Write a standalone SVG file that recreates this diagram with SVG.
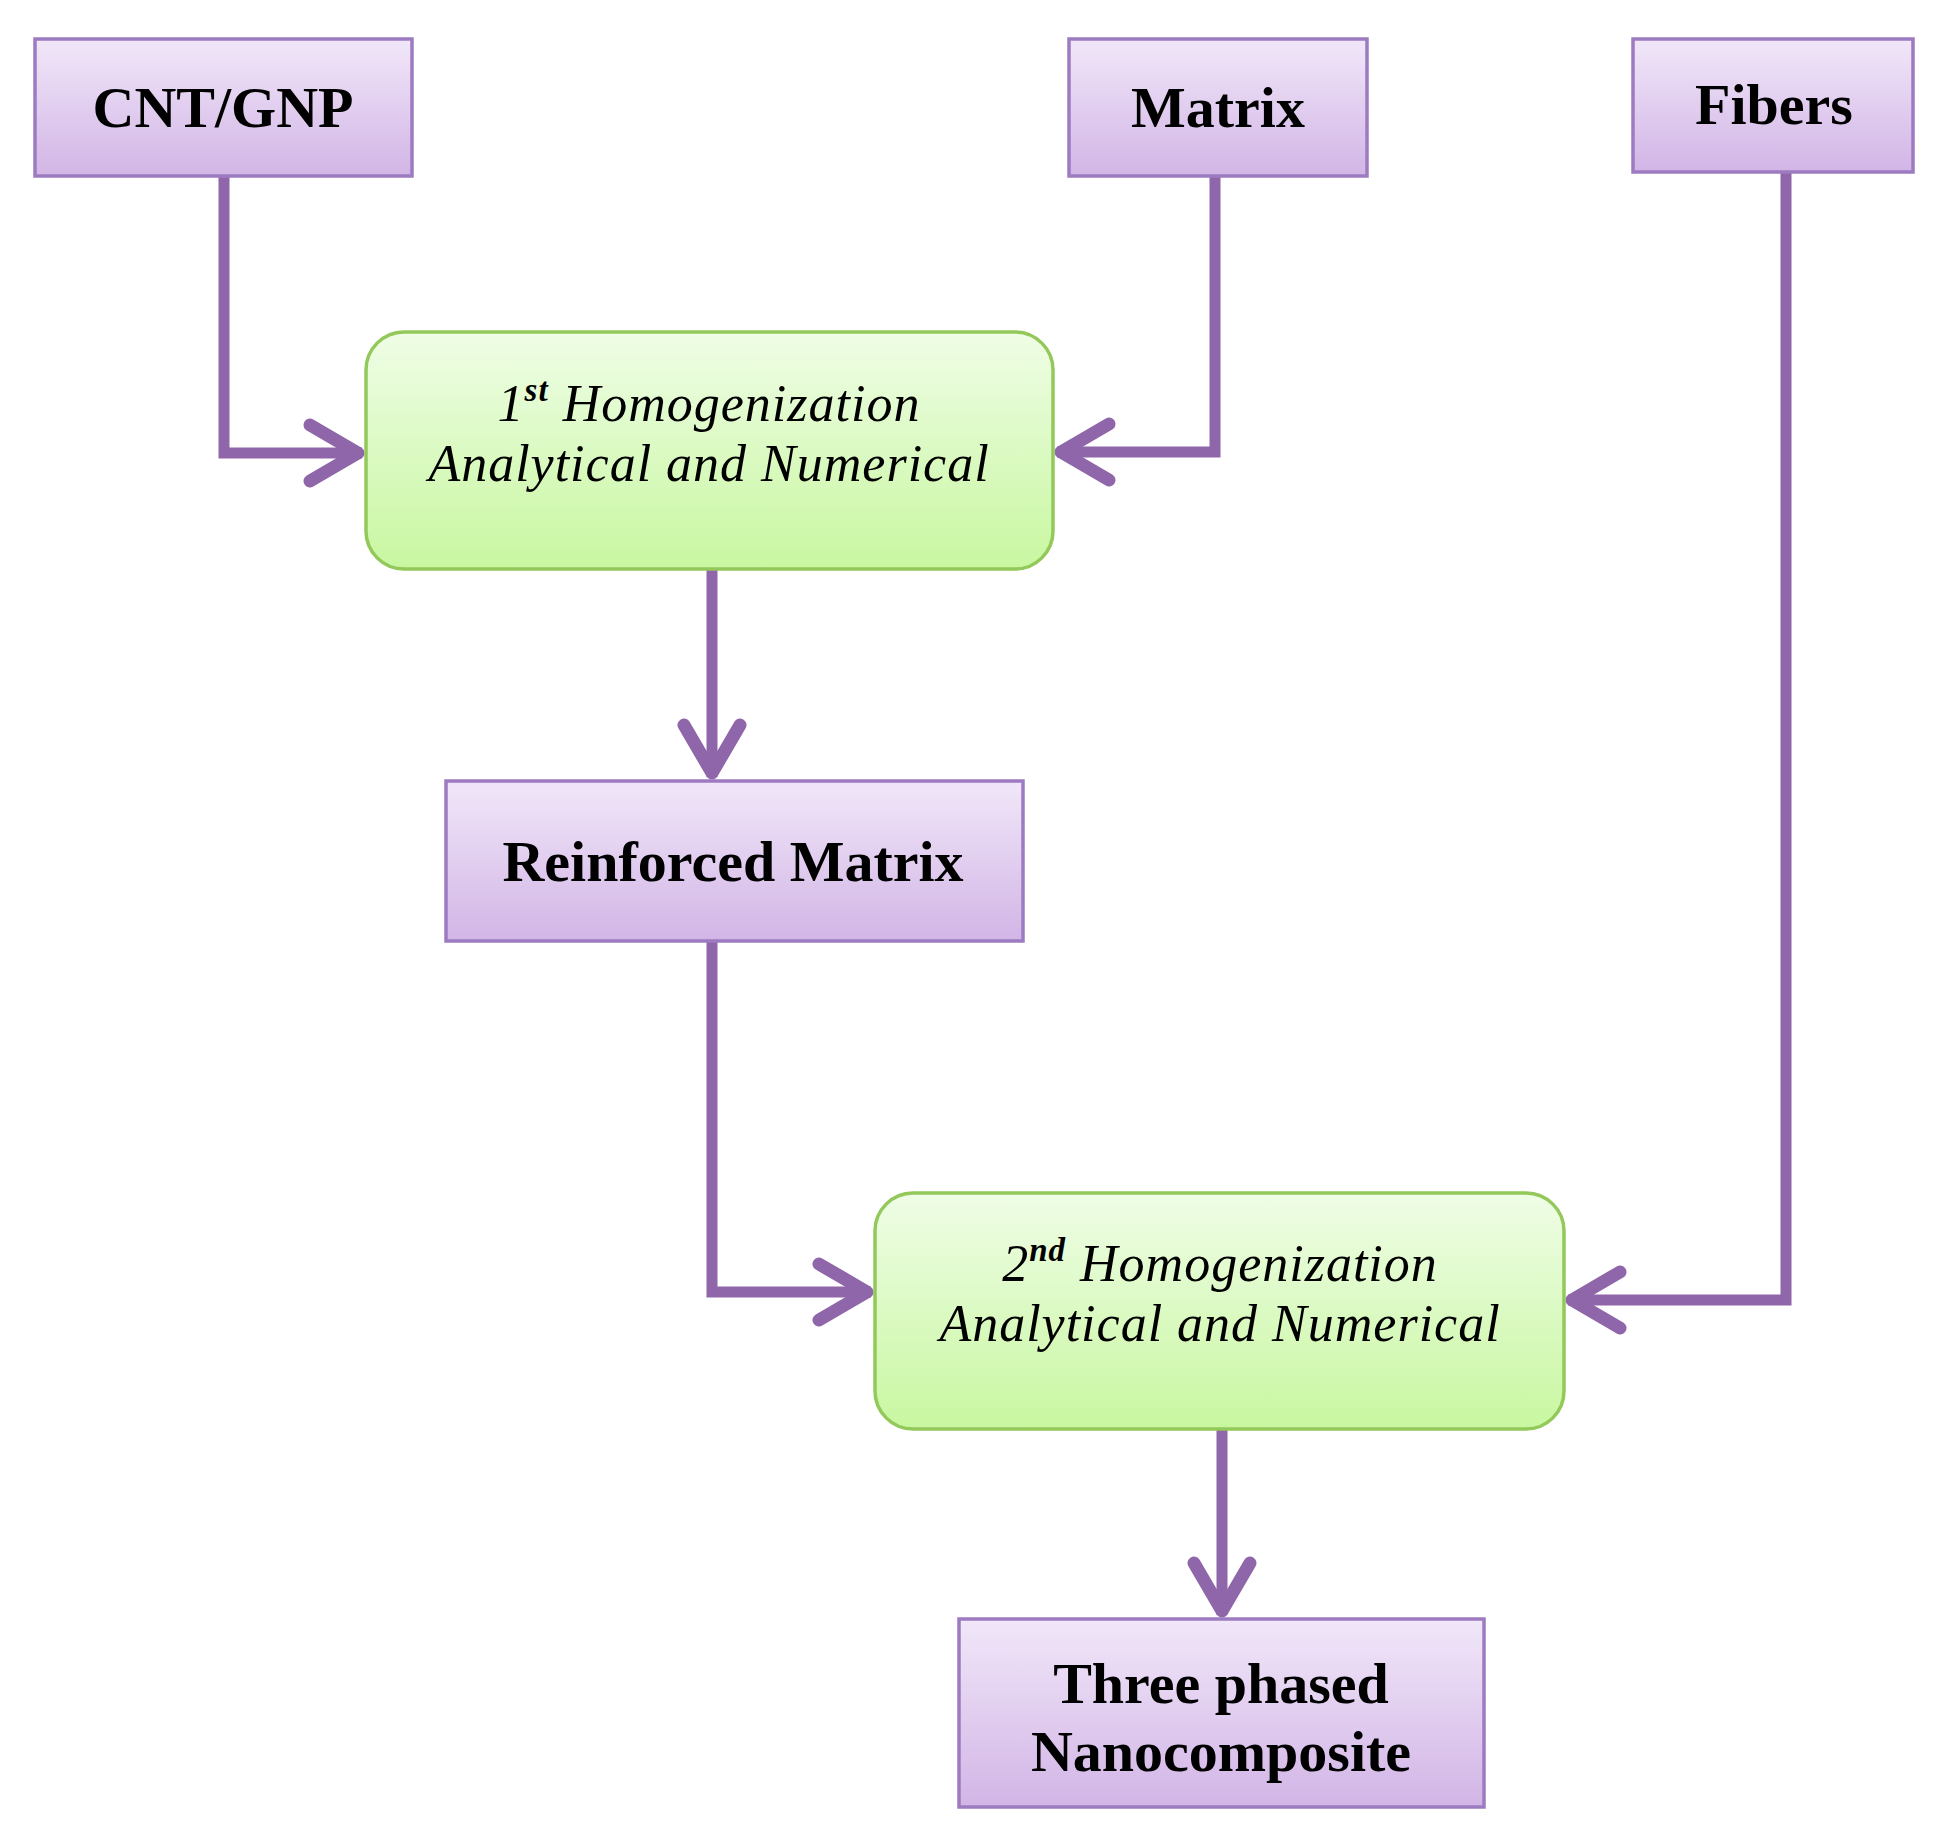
<svg xmlns="http://www.w3.org/2000/svg" width="1938" height="1833" viewBox="0 0 1938 1833">
<defs>
<linearGradient id="gP" x1="0" y1="0" x2="0" y2="1">
<stop offset="0" stop-color="#f1e7f9"/>
<stop offset="1" stop-color="#d2b5e6"/>
</linearGradient>
<linearGradient id="gG" x1="0" y1="0" x2="0" y2="1">
<stop offset="0" stop-color="#effde6"/>
<stop offset="1" stop-color="#c8f7a0"/>
</linearGradient>
<marker id="chev" markerUnits="userSpaceOnUse" markerWidth="90" markerHeight="90" viewBox="-70 -45 90 90" refX="0" refY="0" orient="auto" overflow="visible">
<path d="M-52,-28 L-4,0 L-52,28" fill="none" stroke="#8f66aa" stroke-width="13" stroke-linecap="round" stroke-linejoin="round"/>
</marker>
<style>
.pbox{fill:url(#gP);stroke:#9d7bc0;stroke-width:3.5}
.gbox{fill:url(#gG);stroke:#93c85a;stroke-width:3.5}
.bt{font-family:"Liberation Serif","Times New Roman",serif;font-weight:bold;font-size:58px;fill:#000;text-anchor:middle}
.it{font-family:"Liberation Serif","Times New Roman",serif;font-style:italic;font-size:52px;letter-spacing:1px;fill:#000;text-anchor:middle}
.sup{font-size:33px;font-weight:bold}
.con{fill:none;stroke:#8f66aa;stroke-width:11;marker-end:url(#chev)}
</style>
</defs>
<rect width="1938" height="1833" fill="#ffffff"/>
<g id="connectors">
<path class="con" d="M224,176 V453 H362"/>
<path class="con" d="M1215,176 V452 H1057"/>
<path class="con" d="M712,569 V777"/>
<path class="con" d="M712,941 V1292 H871"/>
<path class="con" d="M1786,172 V1300 H1568"/>
<path class="con" d="M1222,1429 V1615"/>
</g>
<g id="cnt">
<rect class="pbox" x="35" y="39" width="377" height="137"/>
<text class="bt" x="223" y="127">CNT/GNP</text>
</g>
<g id="matrix">
<rect class="pbox" x="1069" y="39" width="298" height="137"/>
<text class="bt" x="1218" y="127">Matrix</text>
</g>
<g id="fibers">
<rect class="pbox" x="1633" y="39" width="280" height="133"/>
<text class="bt" x="1774" y="124">Fibers</text>
</g>
<g id="homog1">
<rect class="gbox" x="366" y="332" width="687" height="237" rx="38" ry="38"/>
<text class="it" x="709" y="421"><tspan>1</tspan><tspan class="sup" dy="-20">st</tspan><tspan dy="20"> Homogenization</tspan></text>
<text class="it" x="709" y="481">Analytical and Numerical</text>
</g>
<g id="reinforced">
<rect class="pbox" x="446" y="781" width="577" height="160"/>
<text class="bt" x="733" y="881">Reinforced Matrix</text>
</g>
<g id="homog2">
<rect class="gbox" x="875" y="1193" width="689" height="236" rx="38" ry="38"/>
<text class="it" x="1220" y="1281"><tspan>2</tspan><tspan class="sup" dy="-20">nd</tspan><tspan dy="20"> Homogenization</tspan></text>
<text class="it" x="1220" y="1341">Analytical and Numerical</text>
</g>
<g id="three">
<rect class="pbox" x="959" y="1619" width="525" height="188"/>
<text class="bt" x="1221" y="1703">Three phased</text>
<text class="bt" x="1221" y="1771">Nanocomposite</text>
</g>
</svg>
